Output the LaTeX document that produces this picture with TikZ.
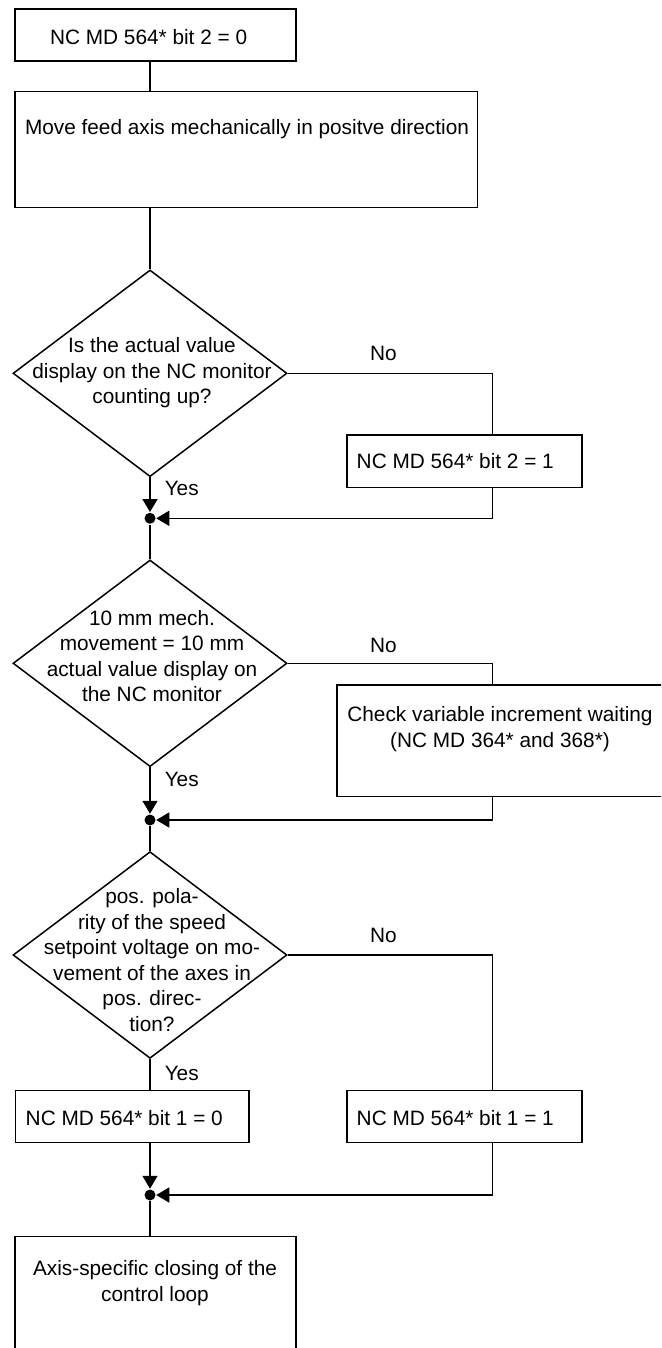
\documentclass[tikz,border=0pt]{standalone}
\usepackage{fontspec}
\setmainfont{Liberation Sans}
\usetikzlibrary{shapes.geometric,arrows.meta}
\begin{document}
\begin{tikzpicture}[x=1pt,y=-1pt,line width=1.5pt,
  font=\fontsize{20.8}{25.5}\selectfont,
  box/.style={draw,rectangle,inner sep=0pt},
  dia/.style={draw,diamond,inner sep=0pt,minimum width=274pt,minimum height=206.7pt},
  txt/.style={align=center,inner sep=0pt},
  lbl/.style={inner sep=0pt},
  jn/.style={circle,fill,inner sep=0pt,minimum size=11pt},
  arr/.style={-{Triangle[length=13pt,width=15pt]}}]
\useasboundingbox (0,0) rectangle (661,1348);
\clip (0,0) rectangle (661,1348);
\coordinate (rb) at (492.4,0);
% boxes and decisions
\node[box,minimum width=281pt,minimum height=52pt] (b1) at (155.5,35) {};
\node[txt] (t1) at (148.6,37) {NC MD 564* bit 2 = 0};
\node[box,minimum width=462.6pt,minimum height=115.6pt] (b2) at (246.3,149.5) {};
\node[txt] (t2) at (247,129) {Move feed axis mechanically in positve direction};
\node[dia] (d1) at (150,373.3) {};
\node[txt] (dt1) at (152,373) {Is the actual value\\display on the NC monitor\\counting up?};
\node[box,minimum width=234.8pt,minimum height=52.7pt] (b3) at (464.4,461.3) {};
\node[txt] (t3) at (455.3,461) {NC MD 564* bit 2 = 1};
\node[jn] (j1) at (150,518.3) {};
\node[dia] (d2) at (150,663.3) {};
\node[txt] (dt2) at (152,656) {10 mm mech.\\movement = 10 mm\\actual value display on\\the NC monitor};
\node[box,minimum width=363pt,minimum height=111.7pt] (b4) at (518.5,740.8) {};
\node[txt] (t4) at (500,729) {Check variable increment waiting\\(NC MD 364* and 368*)};
\node[jn] (j2) at (150,820) {};
\node[dia] (d3) at (150,955) {};
\node[txt] (dt3) at (152,960) {pos. pola-\\rity of the speed\\setpoint voltage on mo-\\vement of the axes in\\pos. direc-\\tion?};
\node[box,minimum width=233.5pt,minimum height=51.6pt] (b5) at (132,1116.5) {};
\node[txt] (t5) at (124.3,1118) {NC MD 564* bit 1 = 0};
\node[box,minimum width=234.8pt,minimum height=51.6pt] (b6) at (464.4,1116.5) {};
\node[txt] (t6) at (455.3,1118) {NC MD 564* bit 1 = 1};
\node[jn] (j3) at (150,1195) {};
\node[box,minimum width=280.8pt,minimum height=163.5pt] (b7) at (155.6,1318.25) {};
\node[txt] (t7) at (155,1283) {Axis-specific closing of the\\control loop};
% labels
\node[lbl] (no1) at (383.5,353) {No};
\node[lbl] (no2) at (383.5,645) {No};
\node[lbl] (no3) at (383.5,935) {No};
\node[lbl,anchor=west] (y1) at (164,488.3) {Yes};
\node[lbl,anchor=west] (y2) at (164,779) {Yes};
\node[lbl,anchor=west] (y3) at (164,1073) {Yes};
% connectors
\draw (b1.south -| d1.north) -- (b2.north -| d1.north);
\draw (b2.south -| d1.north) -- (d1.north);
\draw (d1.east) -| (b3.north -| rb);
\draw[arr] (d1.south) -- (j1);
\draw[arr] (b3.south -| rb) |- (j1);
\draw (j1) -- (d2.north);
\draw (d2.east) -| (b4.north -| rb);
\draw[arr] (d2.south) -- (j2);
\draw[arr] (b4.south -| rb) |- (j2);
\draw (j2) -- (d3.north);
\draw (d3.east) -| (b6.north -| rb);
\draw (d3.south) -- (b5.north -| d3.south);
\draw[arr] (b5.south -| d3.south) -- (j3);
\draw[arr] (b6.south -| rb) |- (j3);
\draw (j3) -- (b7.north -| j3);
\end{tikzpicture}
\end{document}
